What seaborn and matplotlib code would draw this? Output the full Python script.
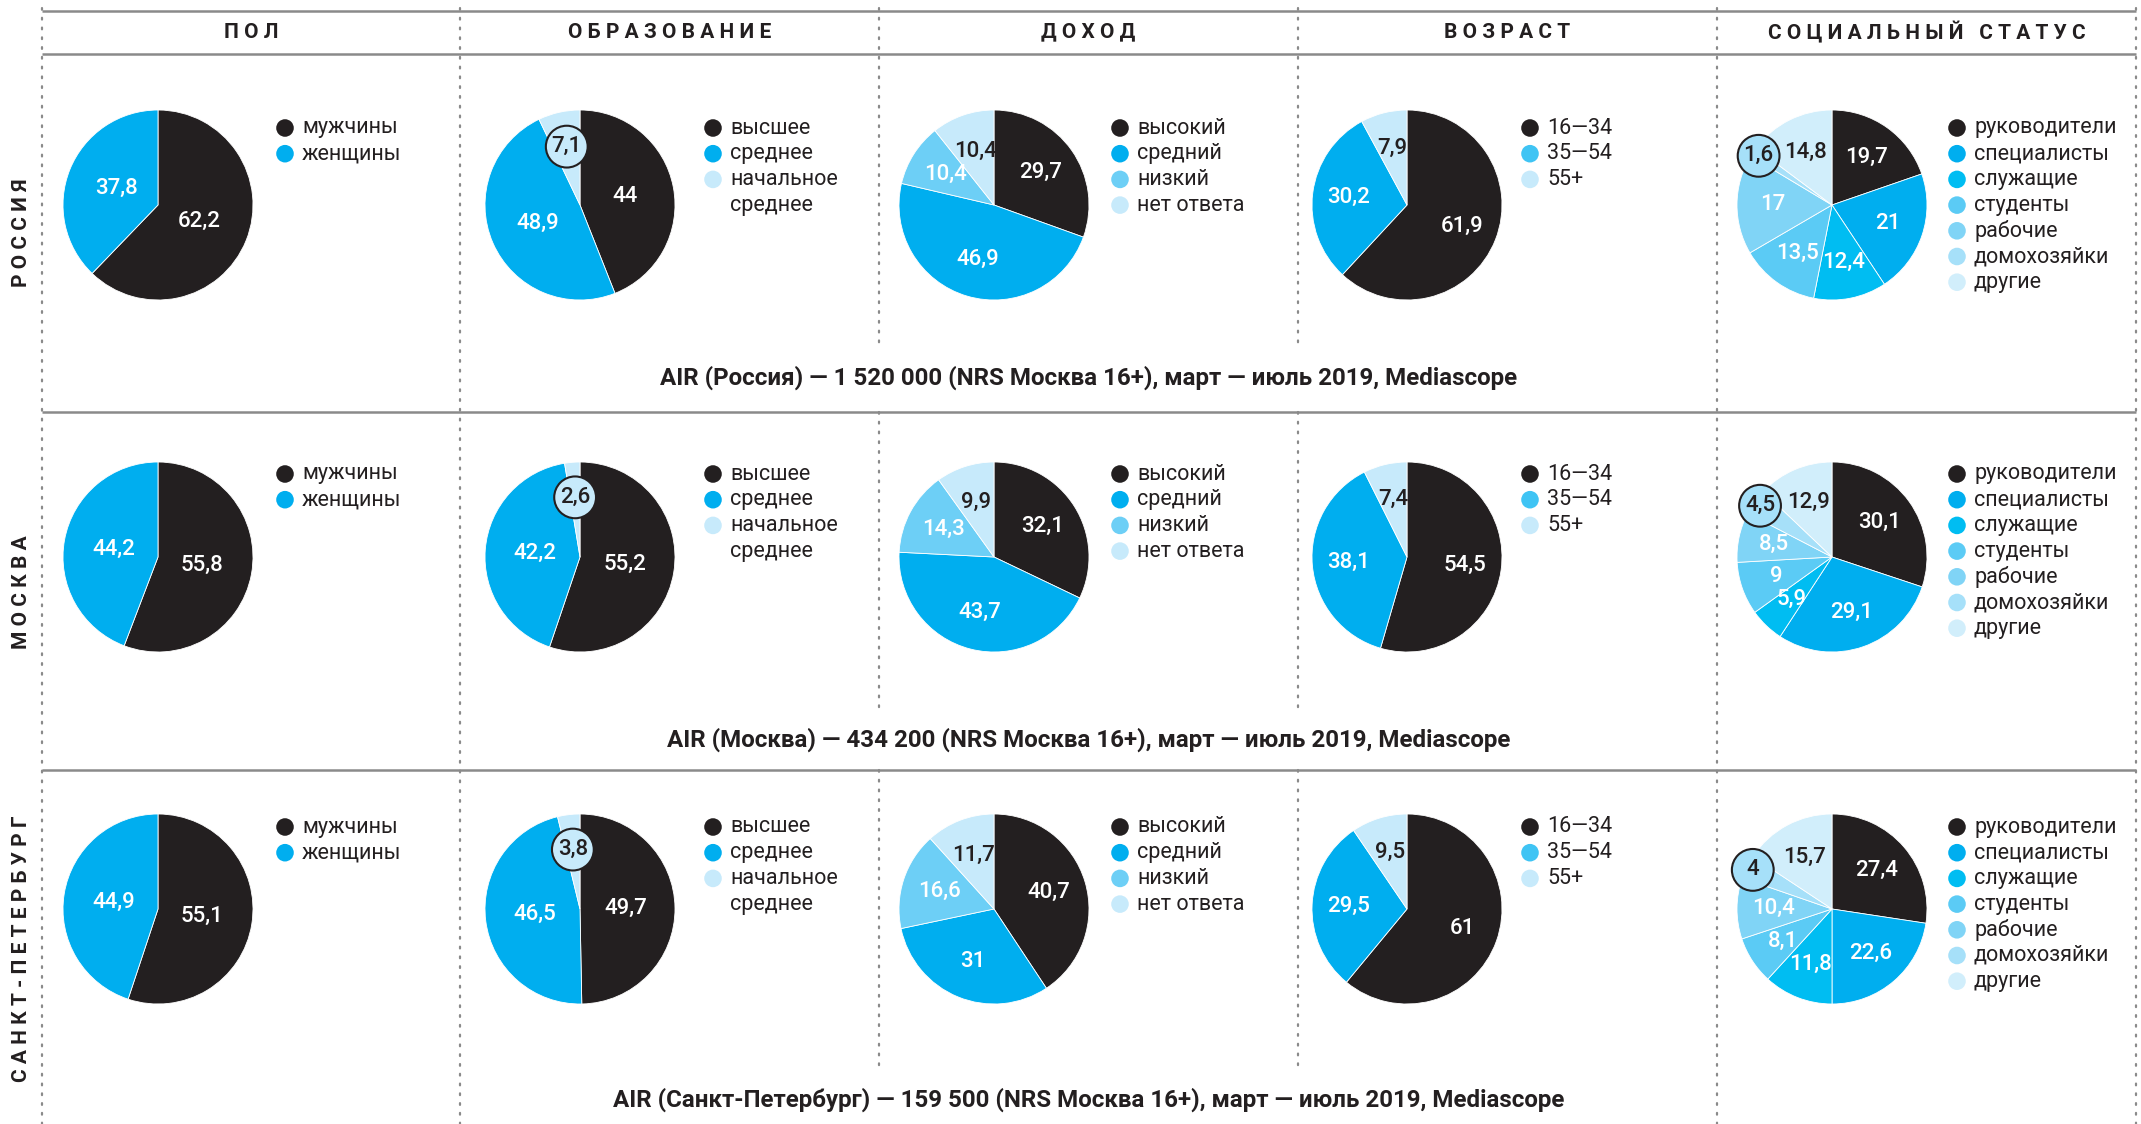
import numpy as np
import pandas as pd
import matplotlib
matplotlib.use("Agg")
import matplotlib.pyplot as plt
import seaborn as sns
from matplotlib.patches import Circle

# ---------------- data ----------------
regions = ["РОССИЯ", "МОСКВА", "САНКТ-ПЕТЕРБУРГ"]
column_titles = ["ПОЛ", "ОБРАЗОВАНИЕ", "ДОХОД", "ВОЗРАСТ", "СОЦИАЛЬНЫЙ СТАТУС"]

gender_labels = ["мужчины", "женщины"]
gender_russia = [62.2, 37.8]
gender_moscow = [55.8, 44.2]
gender_spb = [55.1, 44.9]

education_labels = ["высшее", "среднее", "начальное\nсреднее"]
education_russia = [44, 48.9, 7.1]
education_moscow = [55.2, 42.2, 2.6]
education_spb = [49.7, 46.5, 3.8]

income_labels = ["высокий", "средний", "низкий", "нет ответа"]
income_russia = [29.7, 46.9, 10.4, 10.4]
income_moscow = [32.1, 43.7, 14.3, 9.9]
income_spb = [40.7, 31, 16.6, 11.7]

age_labels = ["16—34", "35—54", "55+"]
age_russia = [61.9, 30.2, 7.9]
age_moscow = [54.5, 38.1, 7.4]
age_spb = [61, 29.5, 9.5]

status_labels = ["руководители", "специалисты", "служащие", "студенты",
                 "рабочие", "домохозяйки", "другие"]
status_russia = [19.7, 21, 12.4, 13.5, 17, 1.6, 14.8]
status_moscow = [30.1, 29.1, 5.9, 9, 8.5, 4.5, 12.9]
status_spb = [27.4, 22.6, 11.8, 8.1, 10.4, 4, 15.7]

captions = [
    "AIR (Россия) — 1 520 000 (NRS Москва 16+), март — июль 2019, Mediascope",
    "AIR (Москва) — 434 200 (NRS Москва 16+), март — июль 2019, Mediascope",
    "AIR (Санкт-Петербург) — 159 500 (NRS Москва 16+), март — июль 2019, Mediascope",
]

# ---------------- style ----------------
sns.set_theme(style="white")
FONT = ["Roboto", "DejaVu Sans"]
plt.rcParams["font.family"] = FONT

BLACK = "#231f20"
BLUE = "#00aeef"
LIGHT = "#c7eafb"
colors = [
    [BLACK, BLUE],
    [BLACK, BLUE, LIGHT],
    [BLACK, BLUE, "#6dcff6", LIGHT],
    [BLACK, BLUE, LIGHT],
    [BLACK, BLUE, "#00bdf2", "#5bcbf5", "#80d4f6", "#a6e0f9", "#d1eefb"],
]
legend_colors = [
    colors[0], colors[1], colors[2],
    [BLACK, "#3fc4f4", LIGHT],
    colors[4],
]
dark_text_colors = {LIGHT, "#d1eefb", "#a6e0f9"}

legend_labels = [gender_labels, education_labels, income_labels, age_labels, status_labels]
values = [
    [gender_russia, education_russia, income_russia, age_russia, status_russia],
    [gender_moscow, education_moscow, income_moscow, age_moscow, status_moscow],
    [gender_spb, education_spb, income_spb, age_spb, status_spb],
]

# layout (pixels)
W, H = 2141, 1124
col_lefts = [42, 460, 879, 1298, 1717]
right_edge = 2136
pie_dx = [116, 120, 115, 109, 115]
leg_dx = [127, 133, 126, 123, 125]
row_cy = [205, 557, 909]
leg_dy = [-77, -83, -82]
R = 95
label_dist = [0.47, 0.48, 0.6, 0.62, 0.62]
bubble = {1: (2, 0.63), 4: (5, 0.93)}  # column -> (slice index, radial pos)
row_sep = [412, 770]
caption_y = [378, 740, 1100]
mid_line_ends = [343, 713, 1067]
GRAY = "#8a8a8a"


def fmt(v):
    return f"{v:g}".replace(".", ",")


fig = plt.figure(figsize=(W / 100, H / 100), dpi=100)
bg = fig.add_axes([0, 0, 1, 1])
bg.set_xlim(0, W)
bg.set_ylim(H, 0)
bg.axis("off")

# header lines
for y in (11, 54):
    bg.plot([col_lefts[0], right_edge], [y, y], color=GRAY, lw=1.8, solid_capstyle="butt")
for y in row_sep:
    bg.plot([col_lefts[0], right_edge], [y, y], color=GRAY, lw=1.8, solid_capstyle="butt")

# vertical dotted lines
dot = dict(color=GRAY, lw=1.6, linestyle=(0, (0.8, 3.6)), dash_capstyle="round")
for x in [col_lefts[0], col_lefts[1], col_lefts[4], right_edge]:
    bg.plot([x, x], [8, H], **dot)
for x in [col_lefts[2], col_lefts[3]]:
    starts = [8] + row_sep
    for s, e in zip(starts, mid_line_ends):
        bg.plot([x, x], [s, e], **dot)

# header titles
col_rights = col_lefts[1:] + [right_edge]
for i, t in enumerate(column_titles):
    xc = (col_lefts[i] + col_rights[i]) / 2
    bg.text(xc, 32, " ".join(t), ha="center", va="center", fontsize=15,
            fontweight="bold", color=BLACK)

# row labels
row_label_y = [233, 592, 949]
for r, name in enumerate(regions):
    bg.text(22, row_label_y[r], " ".join(name), rotation=90, ha="center", va="center",
            fontsize=15, fontweight="bold", color=BLACK)

# captions
for r, cap in enumerate(captions):
    bg.text((col_lefts[1] + col_lefts[4]) / 2, caption_y[r], cap, ha="center", va="center",
            fontsize=17.4, fontweight="semibold", color=BLACK)

# pies
for r in range(3):
    cy = row_cy[r]
    for c in range(5):
        cx = col_lefts[c] + pie_dx[c]
        vals = values[r][c]
        cols = colors[c]
        ax = fig.add_axes([(cx - R) / W, 1 - (cy + R) / H, 2 * R / W, 2 * R / H])
        wedges, _ = ax.pie(vals, colors=cols, startangle=90, counterclock=False, radius=1,
                           wedgeprops=dict(linewidth=0.6, edgecolor="white"))
        for w in wedges:
            w.set_clip_on(False)
        ax.set_xlim(-1.0, 1.0)
        ax.set_ylim(-1.0, 1.0)
        ax.set_aspect("equal")
        ax.axis("off")
        for k, (w, v) in enumerate(zip(wedges, vals)):
            mid = np.deg2rad((w.theta1 + w.theta2) / 2)
            tcol = BLACK if cols[k] in dark_text_colors else "white"
            if c in bubble and bubble[c][0] == k:
                d = bubble[c][1]
                bx, by = d * np.cos(mid), d * np.sin(mid)
                ax.add_patch(Circle((bx, by), 0.22, facecolor=cols[k], edgecolor=BLACK,
                                    lw=1.5, zorder=5, clip_on=False))
                ax.text(bx, by, fmt(v), ha="center", va="center", fontsize=16,
                        fontweight="medium", color=BLACK, zorder=6)
            else:
                d = label_dist[c]
                ax.text(d * np.cos(mid), d * np.sin(mid), fmt(v), ha="center",
                        va="center", fontsize=16, fontweight="medium", color=tcol)
        # legend
        lx = cx + leg_dx[c]
        ly = cy + leg_dy[r]
        line = 0
        for k, lab in enumerate(legend_labels[c]):
            bg.scatter([lx], [ly + line * 25.7], s=160, color=legend_colors[c][k],
                       edgecolors="none")
            for part in lab.split("\n"):
                bg.text(lx + 17, ly + line * 25.7, part, ha="left", va="center",
                        fontsize=15.5, color=BLACK)
                line += 1

fig.savefig("out.png", dpi=100, facecolor="white")
